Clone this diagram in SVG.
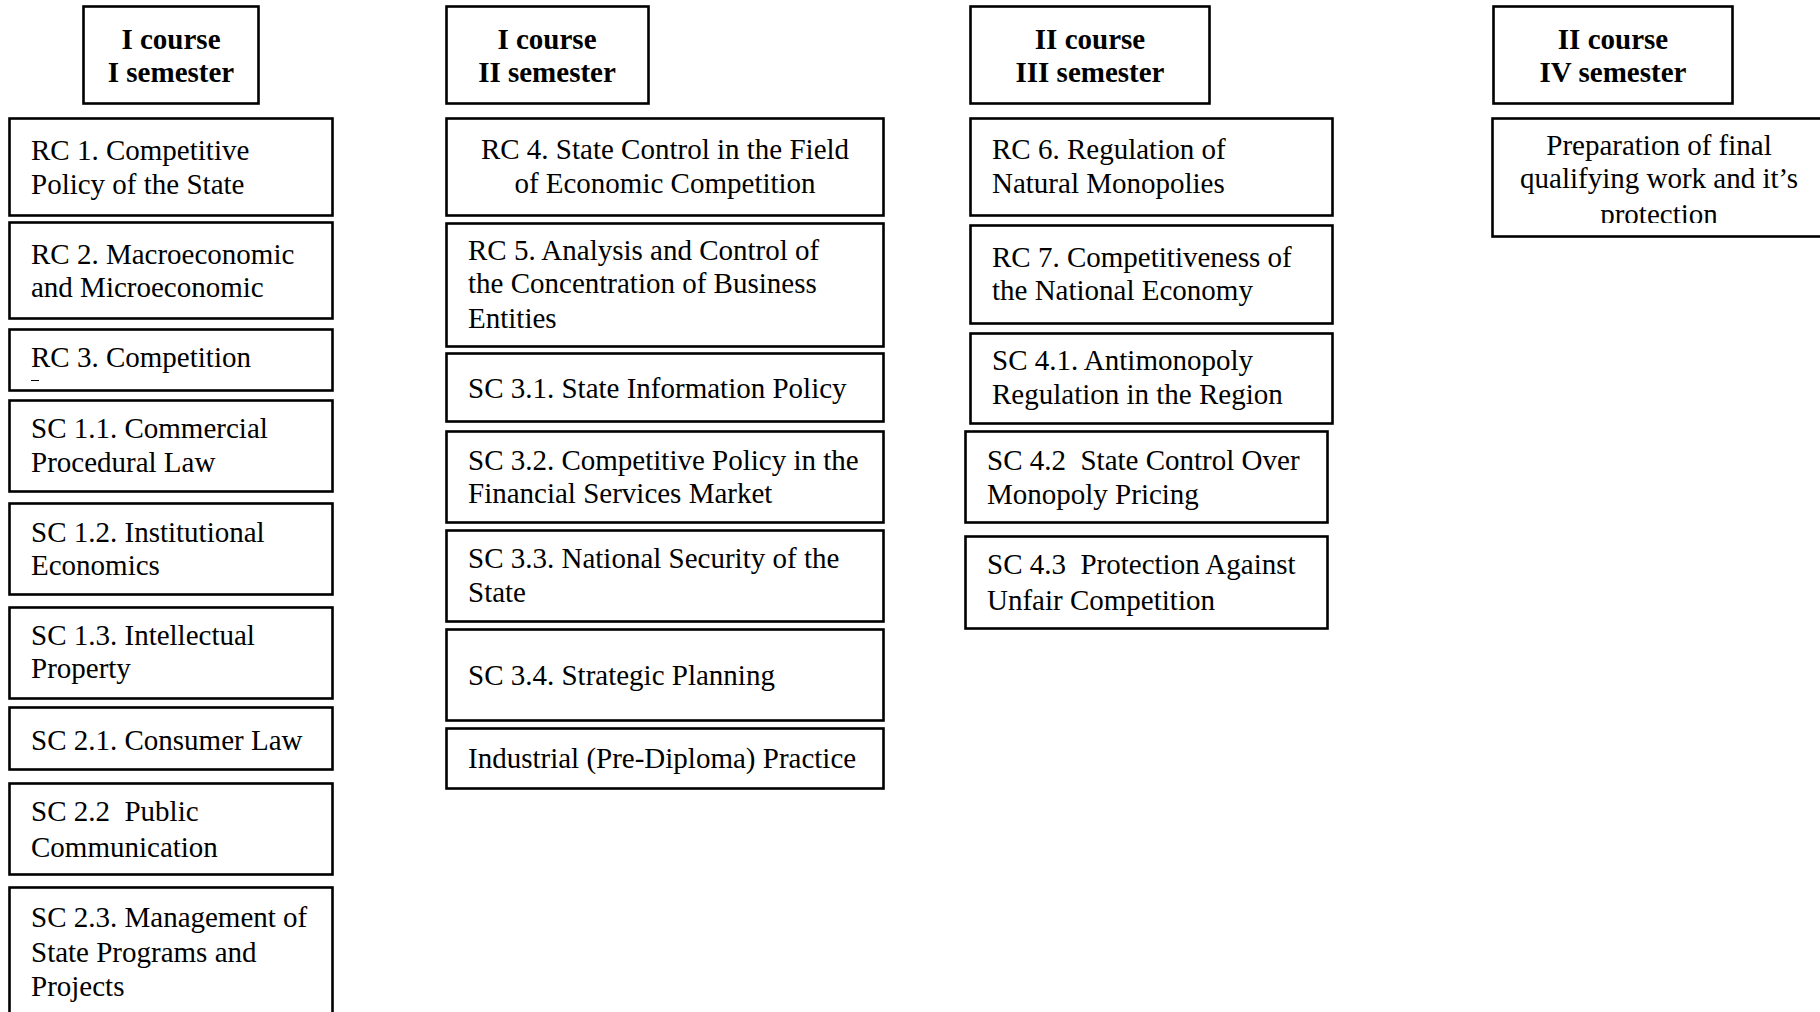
<svg xmlns="http://www.w3.org/2000/svg" width="1820" height="1012" viewBox="0 0 1820 1012">
<style>
.box{fill:#fff;stroke:#000;stroke-width:2.6}
.t{font-family:"Liberation Serif","Times New Roman",serif;font-size:29px;fill:#000;white-space:pre}
.h{font-family:"Liberation Serif","Times New Roman",serif;font-size:29px;font-weight:bold;fill:#000;text-anchor:middle}
.c{text-anchor:middle}
</style>
<defs>
<clipPath id="clip4"><rect x="1493" y="118" width="330" height="105"/></clipPath>
</defs>
<rect width="1820" height="1012" fill="#fff"/>
<g id="connectors"></g>

<!-- Column 1 -->
<g id="h1"><rect class="box" x="83.5" y="6.5" width="175" height="97"/><text class="h" x="171" y="49">I course</text><text class="h" x="171" y="82">I semester</text></g>
<g id="rc1"><rect class="box" x="9.5" y="118.5" width="323" height="97"/><text class="t" x="31" y="160">RC 1. Competitive</text><text class="t" x="31" y="194">Policy of the State</text></g>
<g id="rc2"><rect class="box" x="9.5" y="222.5" width="323" height="96"/><text class="t" x="31" y="264">RC 2. Macroeconomic</text><text class="t" x="31" y="297">and Microeconomic</text></g>
<g id="rc3"><rect class="box" x="9.5" y="329.5" width="323" height="61"/><text class="t" x="31" y="367">RC 3. Competition</text><line x1="31" y1="380.5" x2="39" y2="380.5" stroke="#000" stroke-width="1"/></g>
<g id="sc11"><rect class="box" x="9.5" y="400.5" width="323" height="91"/><text class="t" x="31" y="438">SC 1.1. Commercial</text><text class="t" x="31" y="472">Procedural Law</text></g>
<g id="sc12"><rect class="box" x="9.5" y="503.5" width="323" height="91"/><text class="t" x="31" y="542">SC 1.2. Institutional</text><text class="t" x="31" y="575">Economics</text></g>
<g id="sc13"><rect class="box" x="9.5" y="607.5" width="323" height="91"/><text class="t" x="31" y="645">SC 1.3. Intellectual</text><text class="t" x="31" y="678">Property</text></g>
<g id="sc21"><rect class="box" x="9.5" y="707.5" width="323" height="62"/><text class="t" x="31" y="750">SC 2.1. Consumer Law</text></g>
<g id="sc22"><rect class="box" x="9.5" y="783.5" width="323" height="91"/><text class="t" x="31" y="821">SC 2.2  Public</text><text class="t" x="31" y="857">Communication</text></g>
<g id="sc23"><rect class="box" x="9.5" y="887.5" width="323" height="160"/><text class="t" x="31" y="927">SC 2.3. Management of</text><text class="t" x="31" y="962">State Programs and</text><text class="t" x="31" y="996">Projects</text></g>

<!-- Column 2 -->
<g id="h2"><rect class="box" x="446.5" y="6.5" width="202" height="97"/><text class="h" x="547" y="49">I course</text><text class="h" x="547" y="82">II semester</text></g>
<g id="rc4"><rect class="box" x="446.5" y="118.5" width="437" height="97"/><text class="t c" x="665" y="159">RC 4. State Control in the Field</text><text class="t c" x="665" y="193">of Economic Competition</text></g>
<g id="rc5"><rect class="box" x="446.5" y="223.5" width="437" height="123"/><text class="t" x="468" y="260">RC 5. Analysis and Control of</text><text class="t" x="468" y="293">the Concentration of Business</text><text class="t" x="468" y="328">Entities</text></g>
<g id="sc31"><rect class="box" x="446.5" y="353.5" width="437" height="68"/><text class="t" x="468" y="398">SC 3.1. State Information Policy</text></g>
<g id="sc32"><rect class="box" x="446.5" y="431.5" width="437" height="91"/><text class="t" x="468" y="470">SC 3.2. Competitive Policy in the</text><text class="t" x="468" y="503">Financial Services Market</text></g>
<g id="sc33"><rect class="box" x="446.5" y="530.5" width="437" height="91"/><text class="t" x="468" y="568">SC 3.3. National Security of the</text><text class="t" x="468" y="602">State</text></g>
<g id="sc34"><rect class="box" x="446.5" y="629.5" width="437" height="91"/><text class="t" x="468" y="685">SC 3.4. Strategic Planning</text></g>
<g id="ind"><rect class="box" x="446.5" y="728.5" width="437" height="60"/><text class="t" x="468" y="768">Industrial (Pre-Diploma) Practice</text></g>

<!-- Column 3 -->
<g id="h3"><rect class="box" x="970.5" y="6.5" width="239" height="97"/><text class="h" x="1090" y="49">II course</text><text class="h" x="1090" y="82">III semester</text></g>
<g id="rc6"><rect class="box" x="970.5" y="118.5" width="362" height="97"/><text class="t" x="992" y="159">RC 6. Regulation of</text><text class="t" x="992" y="193">Natural Monopolies</text></g>
<g id="rc7"><rect class="box" x="970.5" y="225.5" width="362" height="98"/><text class="t" x="992" y="267">RC 7. Competitiveness of</text><text class="t" x="992" y="300">the National Economy</text></g>
<g id="sc41"><rect class="box" x="970.5" y="333.5" width="362" height="90"/><text class="t" x="992" y="370">SC 4.1. Antimonopoly</text><text class="t" x="992" y="404">Regulation in the Region</text></g>
<g id="sc42"><rect class="box" x="965.5" y="431.5" width="362" height="91"/><text class="t" x="987" y="470">SC 4.2  State Control Over</text><text class="t" x="987" y="504">Monopoly Pricing</text></g>
<g id="sc43"><rect class="box" x="965.5" y="536.5" width="362" height="92"/><text class="t" x="987" y="574">SC 4.3  Protection Against</text><text class="t" x="987" y="610">Unfair Competition</text></g>

<!-- Column 4 -->
<g id="h4"><rect class="box" x="1493.5" y="6.5" width="239" height="97"/><text class="h" x="1613" y="49">II course</text><text class="h" x="1613" y="82">IV semester</text></g>
<g id="fin"><rect class="box" x="1492.5" y="118.5" width="340" height="118"/><g clip-path="url(#clip4)"><text class="t c" x="1659" y="155">Preparation of final</text><text class="t c" x="1659" y="188">qualifying work and it’s</text><text class="t c" x="1659" y="224">protection</text></g></g>
</svg>
